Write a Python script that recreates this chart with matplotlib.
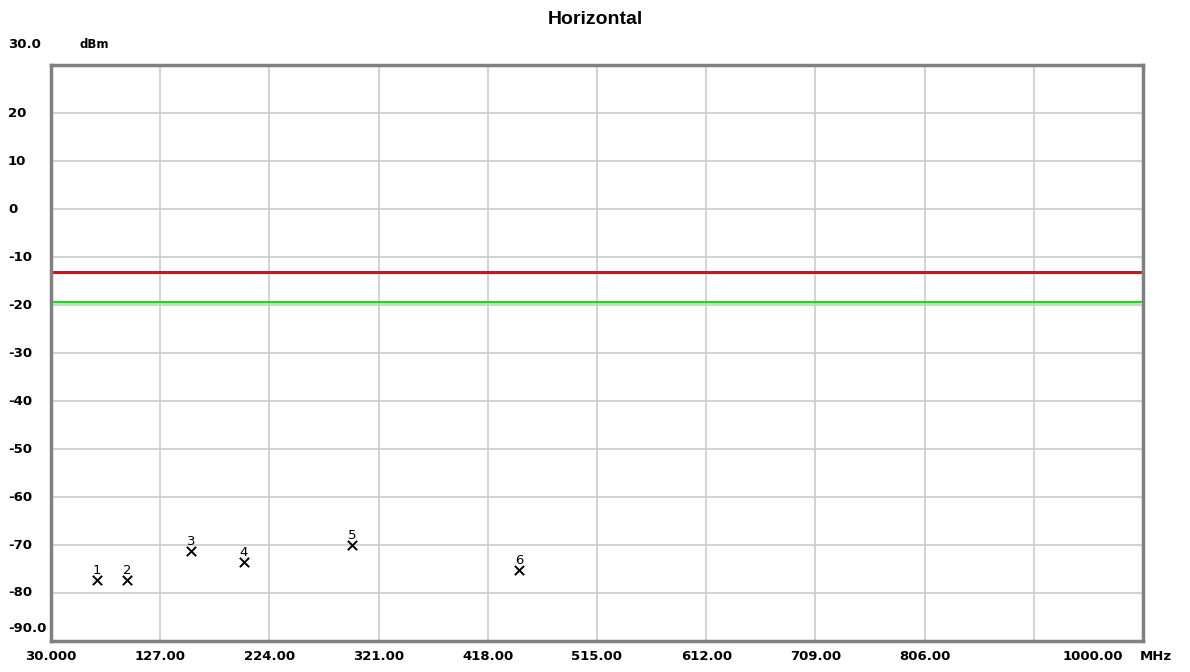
import numpy as np
import matplotlib.pyplot as plt

# Peak markers
marker_ids = ['1', '2', '3', '4', '5', '6']
marker_freq = [70.6, 97.8, 154.4, 201.4, 297.6, 445.7]  # MHz
marker_level = [-77.3, -77.3, -71.2, -73.5, -70.0, -75.2]  # dBm

limit_line = -13.2    # red
margin_line = -19.3   # green

x_ticks = [30, 127, 224, 321, 418, 515, 612, 709, 806, 903, 1000]
x_tick_labels = ['30.000', '127.00', '224.00', '321.00', '418.00', '515.00',
                 '612.00', '709.00', '806.00', '', '']
y_ticks = [-90, -80, -70, -60, -50, -40, -30, -20, -10, 0, 10, 20, 30]
y_tick_labels = ['-90.0', '-80', '-70', '-60', '-50', '-40', '-30', '-20',
                 '-10', '0', '10', '20', '']

fig = plt.figure(figsize=(11.9, 6.72), dpi=100)
ax = fig.add_axes([51 / 1190, 1 - 641 / 672, 1092 / 1190, 576 / 672])
ax.set_xlim(30, 1000)
ax.set_ylim(-90, 30)

ax.set_xticks(x_ticks)
ax.set_yticks(y_ticks)
ax.set_xticklabels([])
ax.set_yticklabels([])
ax.tick_params(length=0)
ax.grid(True, color='#cccccc', linewidth=1.2)

for s in ax.spines.values():
    s.set_color('#808080')
    s.set_linewidth(2.5)

ax.axhline(limit_line, color='#ff0000', linewidth=2.2)
ax.axhline(margin_line, color='#00ee00', linewidth=1.6)

ax.scatter(marker_freq, marker_level, marker='x', s=45, color='black',
           linewidths=1.4, zorder=5)
for lab, f, v in zip(marker_ids, marker_freq, marker_level):
    ax.annotate(lab, (f, v), xytext=(0, 2), textcoords='offset points',
                ha='center', va='bottom', fontsize=9.5, color='black')

# Tick labels placed in figure pixels like the original instrument software
tf = dict(fontsize=9.5, fontweight='bold', color='black')
for v, lab in zip(y_ticks, y_tick_labels):
    if not lab:
        continue
    ypix = ax.transData.transform((30, v))[1]
    if v == -90:
        ypix += 12
    fig.text(8 / 1190, ypix / 672, lab, ha='left', va='center', **tf)
fig.text(8 / 1190, 1 - 45 / 672, '30.0', ha='left', va='center', **tf)
fig.text(80 / 1190, 1 - 45 / 672, 'dBm', ha='left', va='center',
         fontsize=8.5, fontweight='bold')

for v, lab in zip(x_ticks, x_tick_labels):
    if not lab:
        continue
    xpix = ax.transData.transform((v, 0))[0]
    fig.text(xpix / 1190, 1 - 657 / 672, lab, ha='center', va='center', **tf)
fig.text(1123 / 1190, 1 - 657 / 672, '1000.00', ha='right', va='center', **tf)
fig.text(1140 / 1190, 1 - 657 / 672, 'MHz', ha='left', va='center', **tf)

fig.text(0.5, 1 - 20 / 672, 'Horizontal', ha='center', va='center',
         fontsize=14, fontweight='bold', family='Liberation Sans')

fig.savefig('out.png', dpi=100)
